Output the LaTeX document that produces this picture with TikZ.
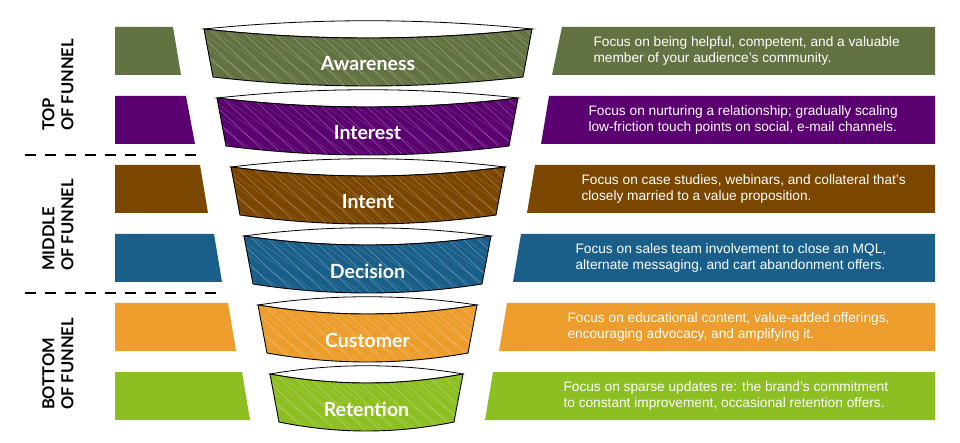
\documentclass[tikz,border=0pt]{standalone}
\usepackage{fontspec}
\setmainfont{Liberation Sans}
\newfontfamily\lato{Lato}
\usetikzlibrary{calc}
\definecolor{cA}{HTML}{627241}
\definecolor{cB}{HTML}{5A0070}
\definecolor{cC}{HTML}{7A4600}
\definecolor{cD}{HTML}{1A5E8A}
\definecolor{cE}{HTML}{EC9D2C}
\definecolor{cF}{HTML}{8DBE22}
\tikzset{
 lab/.style={text=white,font=\lato\bfseries\fontsize{19.5}{22}\selectfont},
 desc/.style={text=white,font=\fontsize{13.7}{16.5}\selectfont,align=left,anchor=west},
 side/.style={rotate=90,font=\lato\bfseries\fontsize{16.5}{19}\selectfont,align=left},
 sepline/.style={line width=2.5pt,dash pattern=on 11pt off 9pt}
}
\newcommand\fseg[6]{% L R top color name label
 \fill[white,draw=black,line width=0.8pt] (#1,#3) .. controls ({#1+(#2-#1)/3},{#3-11}) and ({#2-(#2-#1)/3},{#3-11}) .. (#2,#3)
   .. controls ({#2-(#2-#1)/3},{#3+12}) and ({#1+(#2-#1)/3},{#3+12}) .. cycle;
 \begin{scope}
 \path[clip] (#1,#3) .. controls ({#1+(#2-#1)/3},{#3+12}) and ({#2-(#2-#1)/3},{#3+12}) .. (#2,#3)
   -- ({#2-9},{#3+48}) .. controls ({#2-9-(#2-#1-18)/3},{#3+60}) and ({#1+9+(#2-#1-18)/3},{#3+60}) .. ({#1+9},{#3+48}) -- cycle;
 \fill[#4] (#1-5,#3-5) rectangle (#2+5,#3+70);
 \foreach \i in {0,15,...,420}{
   \draw[white,opacity=0.35,line width=0.5pt] ({#1-60+\i},{#3-5}) -- ({#1+20+\i},{#3+70});
   \draw[white,opacity=0.2,line width=0.4pt] ({#1-45+\i},{#3-5}) -- ({#1+50+\i},{#3+62});}
 \end{scope}
 \draw[black,line width=0.9pt] (#1,#3) .. controls ({#1+(#2-#1)/3},{#3+12}) and ({#2-(#2-#1)/3},{#3+12}) .. (#2,#3)
   -- ({#2-9},{#3+48}) .. controls ({#2-9-(#2-#1-18)/3},{#3+60}) and ({#1+9+(#2-#1-18)/3},{#3+60}) .. ({#1+9},{#3+48}) -- cycle;
 \node[lab] (#5) at ({(#1+#2)/2},{#3+35}) {#6};
}
\begin{document}
\begin{tikzpicture}[x=1pt,y=-1pt]
\useasboundingbox (0,0) rectangle (960,443);
% left bars
\fill[cA] (115,27) -- (173,27) -- (181,75) -- (115,75) -- cycle;
\fill[cB] (115,96) -- (186,96) -- (195,144) -- (115,144) -- cycle;
\fill[cC] (115,165) -- (200,165) -- (208,213) -- (115,213) -- cycle;
\fill[cD] (115,234) -- (214,234) -- (222,282) -- (115,282) -- cycle;
\fill[cE] (115,303) -- (228,303) -- (236,351) -- (115,351) -- cycle;
\fill[cF] (115,372) -- (242,372) -- (250,420) -- (115,420) -- cycle;
% right bars
\fill[cA] (562,27) -- (935,27) -- (935,75) -- (552,75) -- cycle;
\fill[cB] (549,96) -- (935,96) -- (935,144) -- (541,144) -- cycle;
\fill[cC] (535,165) -- (935,165) -- (935,213) -- (527,213) -- cycle;
\fill[cD] (521,234) -- (935,234) -- (935,282) -- (513,282) -- cycle;
\fill[cE] (507,303) -- (935,303) -- (935,351) -- (499,351) -- cycle;
\fill[cF] (493,372) -- (935,372) -- (935,420) -- (485,420) -- cycle;
% funnel
\fseg{204}{532}{29}{cA}{aw}{Awareness}
\fseg{217}{518}{98}{cB}{in}{Interest}
\fseg{231}{505}{167}{cC}{it}{Intent}
\fseg{244}{491}{236}{cD}{de}{Decision}
\fseg{258}{477}{305}{cE}{cu}{Customer}
\fseg{270}{463}{374}{cF}{re}{Retention}
% descriptions
\node[desc] (d1) at (590,51) {Focus on being helpful, competent, and a valuable\\member of your audience’s community.};
\node[desc] (d2) at (585,120) {Focus on nurturing a relationship; gradually scaling\\low-friction touch points on social, e-mail channels.};
\node[desc] (d3) at (578,189) {Focus on case studies, webinars, and collateral that’s\\closely married to a value proposition.};
\node[desc] (d4) at (572,258) {Focus on sales team involvement to close an MQL,\\alternate messaging, and cart abandonment offers.};
\node[desc] (d5) at (564,327) {Focus on educational content, value-added offerings,\\encouraging advocacy, and amplifying it.};
\node[desc] (d6) at (560,396) {Focus on sparse updates re: the brand’s commitment\\to constant improvement, occasional retention offers.};
% side labels
\node[side] (s1) at (58,85) {TOP\\OF FUNNEL};
\node[side] (s2) at (58,225) {MIDDLE\\OF FUNNEL};
\node[side] (s3) at (58,364) {BOTTOM\\OF FUNNEL};
\coordinate (a1) at (25,155); \coordinate (a2) at (198,155);
\coordinate (b1) at (25,293); \coordinate (b2) at (222,293);
\draw[sepline] (a1) -- (a2);
\draw[sepline] (b1) -- (b2);
\end{tikzpicture}
\end{document}
